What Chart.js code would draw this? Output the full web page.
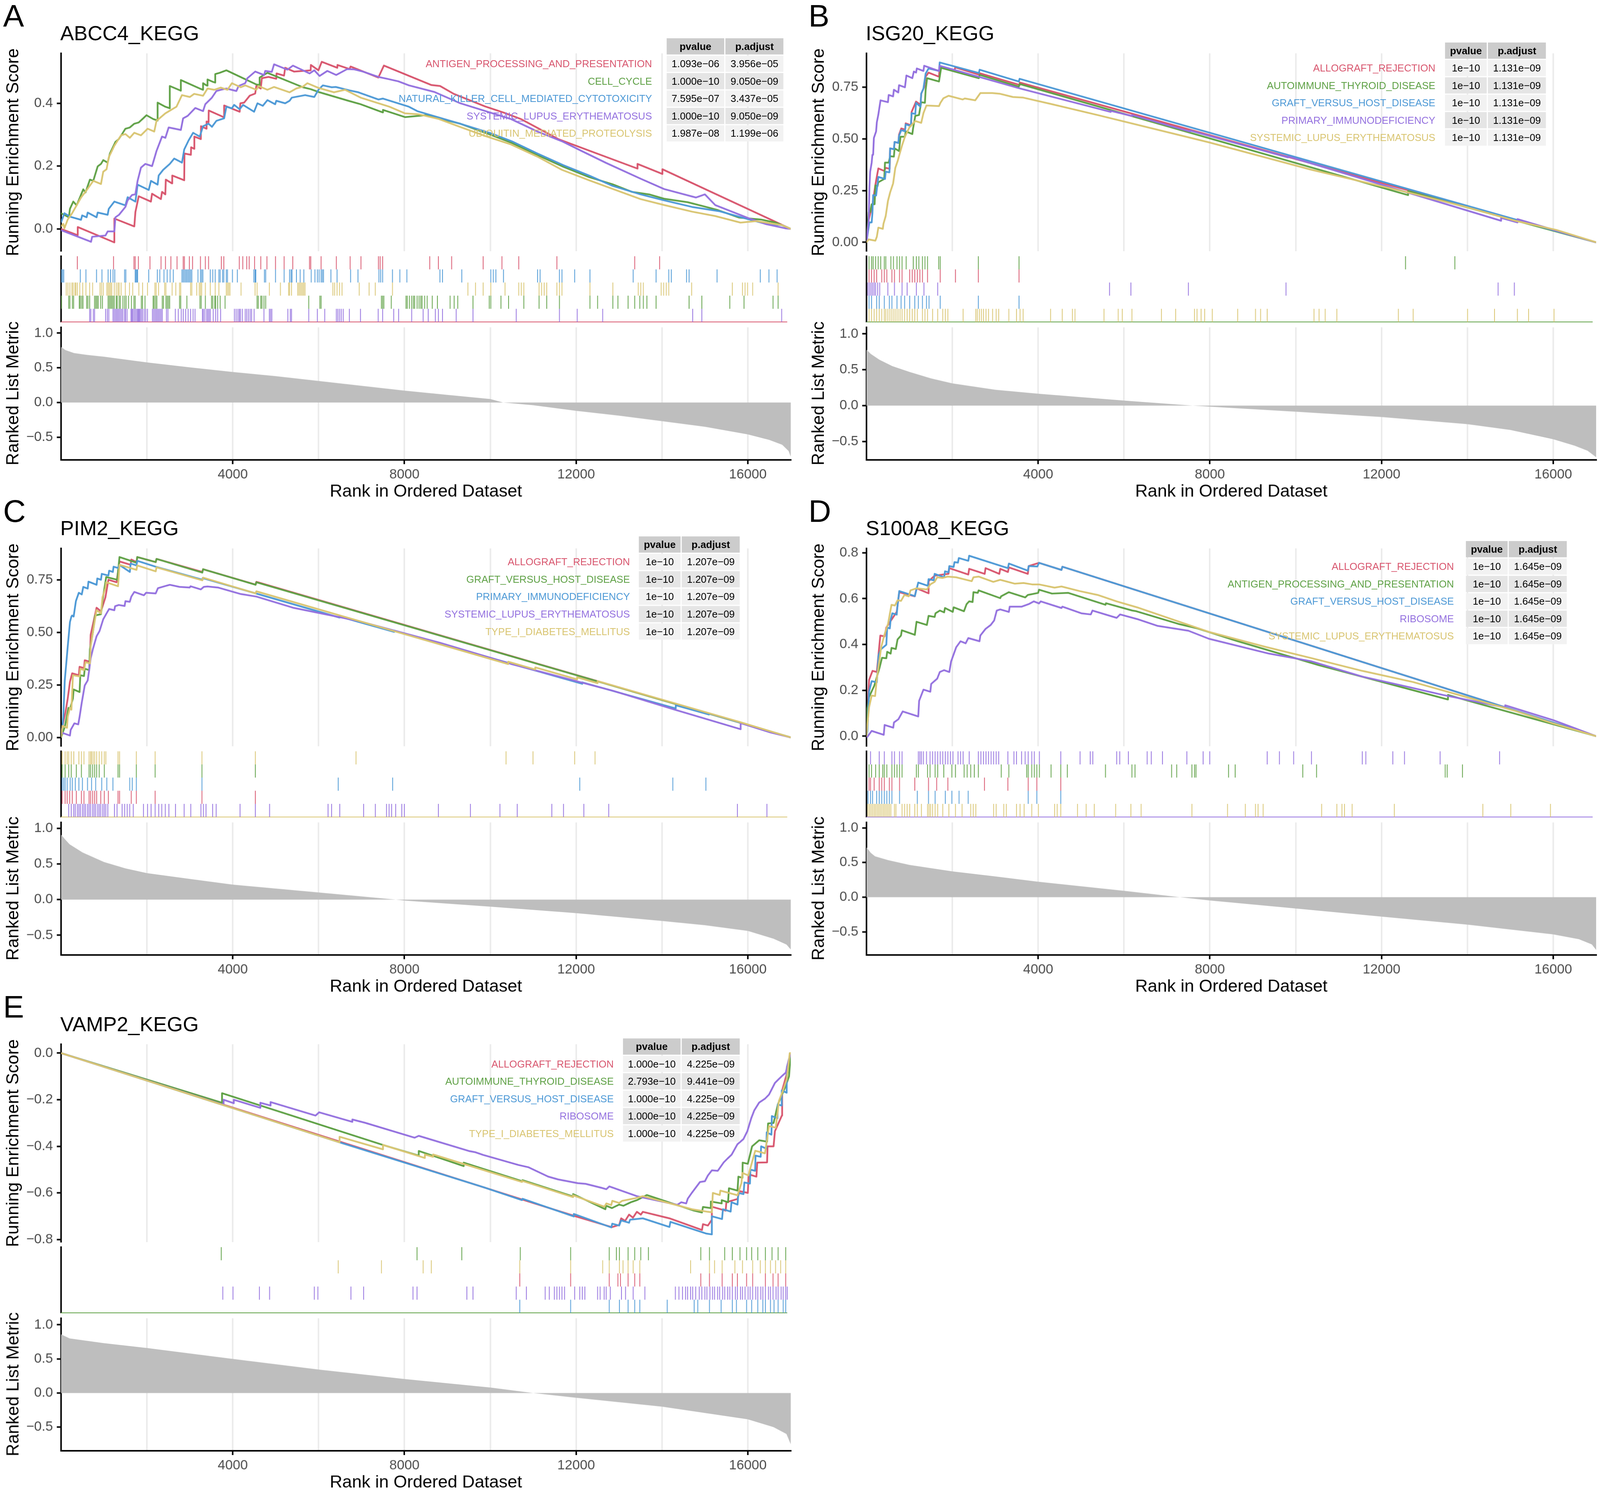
<!DOCTYPE html>
<html>
<head>
<meta charset="utf-8">
<title>GSEA KEGG panels</title>
<script src="https://cdn.jsdelivr.net/npm/chart.js@4.4.1/dist/chart.umd.min.js"></script>
<style>
  html, body { margin: 0; padding: 0; background: #fff; width: 100%; height: 100%; overflow: hidden; }
  body { font-family: "Liberation Sans", Arial, sans-serif; color: #000; }
  #page { position: absolute; left: 0; top: 0; width: 4140px; height: 3858px; transform-origin: 0 0; overflow: hidden; background: #fff; }
  canvas { position: absolute; }
  .txt { position: absolute; white-space: nowrap; line-height: 1; z-index: 2; }
  .ytitle { position: absolute; white-space: nowrap; font-size: 45px; line-height: 45px; transform: translate(-50%, -50%) rotate(-90deg); z-index: 2; }
  .legend { position: absolute; text-align: right; font-size: 26px; line-height: 45px; white-space: nowrap; z-index: 2; }
  table.stat { position: absolute; border-collapse: separate; border-spacing: 3px; font-size: 26px; z-index: 2; }
  table.stat td, table.stat th { height: 42px; padding: 0 13px; text-align: center; white-space: nowrap; }
  table.stat th { background: #CCCCCC; font-weight: bold; }
  table.stat tr.r0 td { background: #F2F2F2; }
  table.stat tr.r1 td { background: #E5E5E5; }
</style>
</head>
<body>
<div id="page"></div>
<script>
// ---------- shared tick values ----------
const rankGrid = [2000, 4000, 6000, 8000, 10000, 12000, 14000, 16000];
const rankLabels = [4000, 8000, 12000, 16000];
const metricTicks = [-0.5, 0, 0.5, 1];

// ---------- panel A : ABCC4_KEGG ----------
const setsA = ['ANTIGEN_PROCESSING_AND_PRESENTATION', 'CELL_CYCLE', 'NATURAL_KILLER_CELL_MEDIATED_CYTOTOXICITY', 'SYSTEMIC_LUPUS_ERYTHEMATOSUS', 'UBIQUITIN_MEDIATED_PROTEOLYSIS'];
const pvalA = ['1.093e\u221206', '1.000e\u221210', '7.595e\u221207', '1.000e\u221210', '1.987e\u221208'];
const padjA = ['3.956e\u221205', '9.050e\u221209', '3.437e\u221205', '9.050e\u221209', '1.199e\u221206'];
const esTicksA = [0, 0.2, 0.4];
const esA = [
  [[0,0],[388,-0.02],[388,0.006],[1241,-0.043],[1241,0.033],[1706,0.008],[1732,0.054],[1809,0.104],[2093,0.087],[2119,0.112],[2326,0.095],[2352,0.118],[2429,0.11],[2440,0.157],[2585,0.145],[2590,0.17],[2869,0.155],[2875,0.24],[3024,0.236],[3030,0.26],[3101,0.255],[3105,0.294],[3256,0.286],[3260,0.327],[3386,0.319],[3390,0.342],[3437,0.34],[3440,0.377],[3722,0.36],[3799,0.355],[3799,0.393],[4161,0.373],[4177,0.40],[4264,0.402],[4394,0.424],[4523,0.431],[4549,0.455],[4652,0.447],[4678,0.48],[4833,0.484],[5014,0.478],[5020,0.495],[5195,0.488],[5221,0.513],[5427,0.501],[5815,0.505],[5820,0.522],[5996,0.505],[6073,0.532],[6435,0.513],[6440,0.522],[6720,0.509],[6745,0.517],[7392,0.482],[7521,0.52],[8630,0.458],[8830,0.455],[9150,0.43],[9880,0.39],[10320,0.37],[10710,0.35],[11600,0.285],[13430,0.192],[13430,0.207],[14010,0.175],[14010,0.19],[17000,0]],
  [[0,0.05],[181,0.037],[207,0.064],[284,0.087],[362,0.075],[517,0.126],[569,0.116],[672,0.157],[750,0.153],[853,0.199],[930,0.207],[982,0.219],[1085,0.211],[1137,0.24],[1266,0.277],[1344,0.286],[1421,0.302],[1499,0.319],[1602,0.323],[1706,0.335],[1809,0.339],[1913,0.352],[1990,0.362],[2145,0.35],[2249,0.345],[2249,0.402],[2429,0.389],[2533,0.384],[2533,0.455],[2740,0.443],[2791,0.44],[2791,0.474],[3231,0.447],[3308,0.443],[3308,0.464],[3386,0.457],[3412,0.456],[3412,0.476],[3541,0.468],[3592,0.466],[3592,0.493],[3696,0.497],[3851,0.505],[4549,0.46],[4626,0.458],[4626,0.482],[4807,0.497],[5634,0.451],[5815,0.445],[6022,0.435],[6694,0.408],[6978,0.397],[7495,0.371],[7500,0.379],[8012,0.356],[8500,0.362],[9300,0.335],[10000,0.30],[10500,0.274],[11100,0.235],[11700,0.198],[12300,0.165],[12850,0.142],[13300,0.118],[13700,0.11],[14050,0.096],[14600,0.085],[15000,0.071],[15300,0.06],[15800,0.036],[16300,0.03],[16650,0.02],[17000,0]],
  [[0,0.021],[78,0.05],[207,0.039],[465,0.029],[491,0.043],[595,0.037],[620,0.052],[827,0.037],[853,0.052],[1085,0.045],[1111,0.064],[1241,0.087],[1499,0.075],[1551,0.101],[1732,0.087],[1783,0.141],[2042,0.124],[2094,0.153],[2249,0.141],[2274,0.17],[2378,0.188],[2533,0.207],[2636,0.224],[2817,0.211],[2869,0.253],[2972,0.282],[3076,0.306],[3231,0.294],[3308,0.327],[3437,0.335],[3515,0.325],[3618,0.344],[3799,0.352],[3851,0.389],[3980,0.384],[4032,0.395],[4161,0.381],[4240,0.395],[4497,0.373],[4575,0.4],[4700,0.392],[4807,0.41],[4988,0.397],[5014,0.408],[5221,0.4],[5324,0.408],[5376,0.418],[5531,0.422],[5686,0.426],[5900,0.42],[5996,0.443],[6099,0.457],[6306,0.451],[6400,0.452],[6720,0.441],[6927,0.435],[7392,0.412],[7500,0.415],[8105,0.389],[8300,0.375],[9300,0.335],[10000,0.305],[10500,0.279],[11100,0.24],[11700,0.203],[12300,0.17],[12850,0.137],[13500,0.11],[14050,0.091],[14700,0.07],[15350,0.056],[15900,0.035],[16450,0.015],[16800,0.012],[17000,0]],
  [[0,-0.004],[698,-0.041],[724,-0.025],[1034,-0.021],[1086,-0.008],[1241,-0.008],[1266,0.037],[1350,0.045],[1499,0.07],[1551,0.091],[1654,0.108],[1730,0.11],[1783,0.153],[1861,0.195],[1964,0.207],[2120,0.2],[2223,0.248],[2352,0.294],[2430,0.29],[2507,0.323],[2791,0.315],[2843,0.352],[2950,0.36],[3127,0.385],[3308,0.375],[3360,0.397],[3515,0.418],[3618,0.439],[3722,0.443],[3851,0.447],[4084,0.439],[4135,0.455],[4290,0.464],[4342,0.48],[4523,0.501],[4730,0.49],[4756,0.503],[4910,0.5],[4962,0.524],[5272,0.507],[5402,0.52],[5789,0.495],[5900,0.505],[6022,0.487],[6203,0.503],[6410,0.49],[6668,0.509],[6830,0.508],[7030,0.501],[7392,0.484],[7598,0.478],[7857,0.47],[8105,0.457],[8700,0.436],[9300,0.40],[10480,0.35],[11100,0.31],[11670,0.279],[12100,0.25],[12700,0.21],[13500,0.16],[14050,0.127],[14790,0.10],[15000,0.11],[15240,0.076],[16000,0.035],[16430,0.015],[16870,0.002],[17000,0]],
  [[0,0.008],[52,0.016],[78,0.002],[155,0.03],[258,0.05],[465,0.1],[620,0.128],[750,0.153],[930,0.143],[982,0.182],[1060,0.19],[1111,0.228],[1241,0.265],[1396,0.298],[1500,0.302],[1602,0.29],[1706,0.306],[1861,0.298],[2016,0.319],[2171,0.31],[2223,0.344],[2429,0.368],[2688,0.389],[2817,0.426],[3000,0.42],[3101,0.43],[3308,0.424],[3412,0.447],[3567,0.443],[3720,0.45],[3877,0.443],[3980,0.464],[4187,0.451],[4290,0.457],[4549,0.443],[4600,0.455],[4807,0.443],[4960,0.452],[5324,0.435],[5479,0.447],[5634,0.453],[5738,0.464],[5996,0.449],[6358,0.435],[6616,0.443],[6978,0.418],[7650,0.389],[8012,0.368],[8330,0.365],[8800,0.35],[9290,0.325],[9900,0.295],[10480,0.269],[11100,0.23],[11670,0.188],[12300,0.155],[12860,0.127],[13500,0.095],[14050,0.076],[14700,0.055],[15240,0.041],[15830,0.02],[16200,0.025],[16430,0.02],[16800,0.012],[17000,0]]
];
const rugA = [
  [380,1228,1706,1735,1810,2081,2340,2444,2571,2715,2859,2888,3003,3078,3263,3378,3453,3752,3810,4173,4254,4346,4404,4530,4675,4819,5020,5222,5424,5816,5845,6087,6444,6767,7021,7430,7470,7528,8631,8833,9143,9881,10321,10714,11607,13429,14012],
  [12,179,207,265,294,426,450,484,513,599,628,669,784,813,841,870,928,969,1101,1130,1159,1187,1216,1245,1291,1314,1360,1389,1447,1487,1522,1579,1648,1706,1735,1879,1908,1965,2155,2179,2213,2242,2369,2398,2455,2484,2513,2542,2773,2801,2945,3251,3280,3378,3522,3551,3597,3620,3666,3724,3839,4588,4617,4675,4703,4749,4790,5798,6058,6087,7499,7528,7557,7730,8075,8104,8155,8208,8248,8277,8335,8381,8421,8450,8512,8571,8690,8810,9107,9202,9286,9643,10024,10060,10298,10476,10833,11190,11369,11667,12381,12560,12917,13036,13274,13429,13548,13631,13714,13929,14702,15000,15655,15988,16667,16786],
  [12,35,63,450,582,830,957,1101,1159,1216,1257,1487,1516,1735,1752,1775,1792,2052,2254,2311,2409,2484,2553,2628,2830,2859,2888,2917,2945,2974,3003,3032,3061,3205,3263,3291,3320,3493,3551,3608,3695,3724,3781,3810,3868,3896,4012,4127,4513,4542,4559,4761,4790,5020,5222,5349,5384,5407,5510,5597,5683,5856,5943,6000,6041,6087,6116,6144,6317,6461,6778,6951,7441,7482,7528,7758,7931,8095,8869,8929,9381,10060,10119,10179,10357,11155,11214,11667,11726,12024,12381,13393,13929,14226,14286,14643,14702,15357,16369,16571,16762],
  [669,697,755,784,1043,1084,1118,1216,1245,1274,1303,1331,1360,1389,1418,1447,1487,1510,1545,1637,1660,1677,1706,1735,1764,1792,1810,1833,1850,1879,1908,1948,1983,2023,2138,2167,2196,2225,2254,2282,2311,2340,2369,2467,2502,2675,2744,2813,2859,2917,2974,3032,3090,3136,3309,3332,3366,3407,3435,3464,3493,3562,3620,3666,3735,4058,4098,4139,4173,4196,4242,4311,4346,4386,4427,4461,4519,4749,4876,4905,4934,5309,5366,5395,5798,6000,6173,6444,6479,6519,6559,6605,6749,7009,7424,7528,7787,7902,8208,8476,8595,8762,8833,8929,9250,9643,10655,11667,12083,12679,14786,15000,16869],
  [121,161,207,254,282,323,346,380,438,507,582,669,738,911,945,986,1072,1101,1130,1159,1187,1245,1291,1331,1360,1406,1504,1602,1677,1821,1908,2023,2196,2225,2282,2426,2455,2600,2686,2773,2801,3032,3061,3176,3234,3263,3291,3378,3493,3608,3695,3868,3896,3925,3954,4213,4542,4588,4876,5135,5326,5349,5395,5539,5568,5597,5626,5655,5683,5712,6363,6404,6461,6519,6577,6980,7211,7355,7758,9524,9702,9881,10060,10393,10714,10774,10833,11190,11250,11310,11369,11607,11667,11726,12381,12917,13512,13571,13631,14048,14107,14167,14226,14762,15714,15952,16012,16071,16190,16786]
];
const metricA = [[0,0.80],[100,0.755],[300,0.713],[600,0.686],[1000,0.66],[2000,0.577],[3000,0.507],[4000,0.44],[5000,0.379],[6000,0.31],[7000,0.24],[8000,0.17],[9000,0.11],[10000,0.05],[10300,0.0],[11000,-0.04],[12000,-0.12],[13000,-0.19],[14000,-0.27],[15000,-0.35],[16000,-0.46],[16500,-0.54],[16800,-0.61],[16950,-0.70],[17000,-0.78]];

// ---------- panel B : ISG20_KEGG ----------
const setsB = ['ALLOGRAFT_REJECTION', 'AUTOIMMUNE_THYROID_DISEASE', 'GRAFT_VERSUS_HOST_DISEASE', 'PRIMARY_IMMUNODEFICIENCY', 'SYSTEMIC_LUPUS_ERYTHEMATOSUS'];
const pvalB = ['1e\u221210', '1e\u221210', '1e\u221210', '1e\u221210', '1e\u221210'];
const padjB = ['1.131e\u221209', '1.131e\u221209', '1.131e\u221209', '1.131e\u221209', '1.131e\u221209'];
const esTicksB = [0, 0.25, 0.5, 0.75];
const esB = [
  [[0,0],[52,0.109],[138,0.18],[207,0.278],[276,0.357],[413,0.345],[448,0.36],[540,0.355],[551,0.454],[640,0.45],[655,0.485],[745,0.48],[758,0.52],[810,0.55],[900,0.545],[913,0.575],[1040,0.565],[1051,0.63],[1154,0.68],[1258,0.665],[1275,0.718],[1344,0.75],[1378,0.80],[1447,0.82],[1689,0.80],[1706,0.85],[2050,0.83],[2067,0.845],[2619,0.81],[2619,0.818],[3571,0.76],[3571,0.772],[17000,0]],
  [[0,0],[52,0.146],[86,0.146],[121,0.184],[190,0.184],[207,0.275],[258,0.272],[276,0.29],[413,0.306],[431,0.385],[517,0.385],[551,0.416],[638,0.414],[655,0.454],[758,0.441],[793,0.51],[896,0.51],[913,0.536],[1068,0.523],[1085,0.55],[1137,0.611],[1223,0.615],[1275,0.677],[1361,0.674],[1378,0.737],[1413,0.793],[1689,0.777],[1740,0.843],[2619,0.793],[2636,0.809],[3549,0.752],[3567,0.765],[12619,0.228],[12619,0.248],[13774,0.181],[17000,0]],
  [[0,0],[34,0.05],[69,0.096],[121,0.096],[138,0.14],[155,0.228],[224,0.226],[276,0.316],[431,0.306],[448,0.341],[534,0.338],[551,0.454],[638,0.45],[655,0.485],[741,0.48],[758,0.514],[810,0.542],[896,0.536],[913,0.57],[1034,0.562],[1051,0.624],[1137,0.62],[1154,0.674],[1258,0.655],[1275,0.718],[1327,0.743],[1378,0.815],[1447,0.84],[1689,0.828],[1706,0.869],[2619,0.818],[2636,0.834],[3549,0.777],[3567,0.79],[17000,0]],
  [[0,0],[52,0.109],[69,0.266],[86,0.341],[121,0.385],[138,0.423],[155,0.423],[172,0.504],[224,0.536],[241,0.58],[276,0.617],[327,0.686],[500,0.677],[517,0.712],[620,0.705],[638,0.737],[741,0.724],[758,0.759],[896,0.749],[930,0.806],[1068,0.793],[1103,0.825],[1155,0.82],[1172,0.84],[1327,0.828],[1344,0.853],[1689,0.828],[1706,0.853],[3584,0.743],[5690,0.63],[5690,0.635],[6190,0.61],[6190,0.615],[7536,0.535],[7536,0.54],[9821,0.41],[9821,0.415],[14786,0.104],[14786,0.118],[15167,0.096],[15167,0.112],[17000,0]],
  [[0,0],[52,0.014],[207,0.008],[241,0.027],[276,0.071],[380,0.065],[396,0.09],[448,0.127],[500,0.2],[551,0.241],[620,0.284],[672,0.36],[724,0.391],[775,0.429],[827,0.467],[896,0.51],[999,0.555],[1137,0.586],[1275,0.577],[1327,0.624],[1396,0.661],[1689,0.658],[1723,0.674],[1792,0.696],[1913,0.708],[2240,0.69],[2290,0.695],[2533,0.686],[2653,0.721],[2929,0.721],[3101,0.718],[3412,0.702],[3653,0.699],[4307,0.668],[5403,0.614],[7976,0.483],[10357,0.351],[12738,0.235],[13929,0.173],[15119,0.104],[16071,0.06],[17000,0]]
];
const rugB = [
  [60,119,179,238,357,417,476,595,655,774,833,1012,1071,1131,1190,1250,1310,1429,1726,2083,2619,3571],
  [60,119,155,214,274,333,417,452,571,631,714,774,833,929,1095,1167,1226,1310,1369,1429,1690,1726,2619,3571,12619,13774],
  [60,119,238,298,417,536,595,714,810,893,1012,1131,1214,1310,1405,1464,1726,2619,3571],
  [36,71,107,143,179,214,262,310,500,655,833,952,1167,1345,1667,5690,6190,7536,9821,14786,15167],
  [60,119,179,238,298,357,417,452,500,548,595,643,690,738,786,833,893,952,1012,1071,1131,1190,1310,1369,1429,1548,1667,1786,1845,1905,2262,2560,2595,2643,2690,2738,2798,2857,2952,3036,3095,3333,3512,3595,3667,4310,4583,4821,4881,5560,5893,5988,6214,6905,7238,7679,7738,7833,7917,8095,8690,9107,9226,9381,10476,10595,10738,11012,12452,12798,14071,14702,15238,15500,16095]
];
const metricB = [[0,0.78],[100,0.72],[300,0.64],[600,0.55],[1000,0.47],[1500,0.38],[2000,0.31],[3000,0.22],[4000,0.165],[6000,0.07],[7600,0.0],[8000,-0.015],[10000,-0.085],[12000,-0.16],[14000,-0.26],[15000,-0.34],[16000,-0.47],[16500,-0.56],[16800,-0.63],[17000,-0.72]];

// ---------- panel C : PIM2_KEGG ----------
const setsC = ['ALLOGRAFT_REJECTION', 'GRAFT_VERSUS_HOST_DISEASE', 'PRIMARY_IMMUNODEFICIENCY', 'SYSTEMIC_LUPUS_ERYTHEMATOSUS', 'TYPE_I_DIABETES_MELLITUS'];
const pvalC = ['1e\u221210', '1e\u221210', '1e\u221210', '1e\u221210', '1e\u221210'];
const padjC = ['1.207e\u221209', '1.207e\u221209', '1.207e\u221209', '1.207e\u221209', '1.207e\u221209'];
const esTicksC = [0, 0.25, 0.5, 0.75];
const esC = [
  [[0,0],[34,0.055],[103,0.12],[155,0.185],[207,0.265],[258,0.305],[413,0.296],[431,0.336],[534,0.33],[551,0.367],[672,0.36],[689,0.488],[827,0.617],[930,0.60],[1034,0.667],[1103,0.75],[1292,0.738],[1361,0.837],[1620,0.821],[1637,0.846],[1757,0.834],[1775,0.858],[2205,0.834],[2223,0.849],[3291,0.787],[3308,0.80],[4532,0.727],[4549,0.74],[17000,0]],
  [[0,0],[34,0.02],[86,0.05],[172,0.141],[207,0.135],[276,0.185],[293,0.228],[431,0.216],[448,0.296],[534,0.292],[551,0.327],[655,0.32],[672,0.42],[741,0.50],[793,0.58],[930,0.586],[965,0.65],[1051,0.763],[1309,0.75],[1361,0.858],[1757,0.831],[1775,0.858],[2205,0.834],[2223,0.849],[3291,0.784],[3308,0.8],[4532,0.726],[4549,0.738],[17000,0]],
  [[0,0],[34,0.055],[52,0.098],[86,0.271],[121,0.352],[155,0.432],[207,0.549],[241,0.575],[258,0.58],[293,0.575],[345,0.648],[413,0.688],[482,0.68],[517,0.716],[620,0.708],[638,0.741],[827,0.726],[844,0.756],[930,0.75],[948,0.778],[1103,0.77],[1120,0.793],[1206,0.787],[1223,0.812],[1327,0.806],[1361,0.82],[1602,0.787],[1620,0.827],[1757,0.818],[1775,0.84],[2205,0.812],[3298,0.75],[3298,0.758],[6488,0.57],[6488,0.575],[7762,0.502],[7762,0.508],[12143,0.255],[12143,0.262],[14321,0.138],[14321,0.153],[15095,0.109],[15095,0.114],[17000,0]],
  [[0,0.024],[207,0.009],[224,0.036],[310,0.067],[400,0.062],[431,0.098],[482,0.166],[551,0.247],[620,0.271],[655,0.321],[689,0.376],[741,0.42],[827,0.481],[896,0.506],[982,0.562],[1068,0.593],[1120,0.611],[1241,0.605],[1258,0.624],[1344,0.63],[1480,0.625],[1499,0.648],[1600,0.645],[1637,0.67],[1706,0.692],[1930,0.676],[1981,0.688],[2205,0.685],[2257,0.71],[2412,0.719],[2533,0.726],[2757,0.716],[2998,0.713],[3015,0.719],[3256,0.704],[3325,0.716],[3412,0.718],[3653,0.713],[4187,0.682],[4549,0.67],[5403,0.617],[6905,0.555],[8833,0.45],[10476,0.35],[12857,0.222],[14286,0.133],[15833,0.039],[15833,0.068],[16524,0.024],[17000,0]],
  [[0,0],[34,0.055],[138,0.046],[155,0.098],[207,0.141],[241,0.132],[276,0.296],[431,0.29],[448,0.327],[534,0.32],[569,0.358],[672,0.352],[689,0.432],[740,0.5],[827,0.605],[930,0.59],[965,0.667],[1034,0.71],[1051,0.738],[1327,0.719],[1361,0.821],[1757,0.797],[1775,0.818],[2205,0.79],[2223,0.809],[3291,0.747],[3308,0.76],[4532,0.685],[4549,0.695],[6905,0.556],[10417,0.349],[10417,0.36],[11048,0.323],[11048,0.333],[12024,0.276],[12024,0.286],[12500,0.258],[12500,0.268],[14286,0.163],[15119,0.114],[15833,0.072],[17000,0]]
];
const rugC = [
  [24,95,143,202,262,357,476,536,655,690,738,786,833,929,1012,1107,1333,1369,1643,1762,2202,3298,4548],
  [24,95,179,238,357,476,655,690,738,786,833,893,1012,1333,1369,1762,2202,3298,4548],
  [24,60,95,143,214,262,333,417,500,619,714,810,952,1071,1214,1607,1667,1762,3298,6488,7762,12143,14321,15095],
  [179,238,298,333,381,417,452,500,536,571,619,655,690,738,774,810,857,893,929,976,1012,1048,1095,1250,1310,1429,1488,1548,1607,1690,1929,2024,2107,2202,2286,2357,2440,2524,2679,2881,3036,3274,3333,3393,3548,3631,4190,4548,4881,6250,6333,6524,7083,7357,7619,7679,7738,7833,7976,8036,8833,9583,10274,10679,11488,11762,12238,12821,15833,16524],
  [24,95,143,179,238,298,417,476,536,655,690,714,750,786,833,893,952,1012,1048,1333,1369,1762,2202,3298,4548,6905,10417,11048,12024,12500]
];
const metricC = [[0,0.91],[100,0.84],[200,0.775],[500,0.66],[1000,0.527],[1500,0.437],[2000,0.37],[3000,0.29],[4000,0.21],[6000,0.10],[7800,0.0],[8000,-0.014],[10000,-0.10],[12000,-0.19],[14000,-0.30],[15000,-0.36],[16000,-0.44],[16600,-0.55],[16900,-0.63],[17000,-0.70]];

// ---------- panel D : S100A8_KEGG ----------
const setsD = ['ALLOGRAFT_REJECTION', 'ANTIGEN_PROCESSING_AND_PRESENTATION', 'GRAFT_VERSUS_HOST_DISEASE', 'RIBOSOME', 'SYSTEMIC_LUPUS_ERYTHEMATOSUS'];
const pvalD = ['1e\u221210', '1e\u221210', '1e\u221210', '1e\u221210', '1e\u221210'];
const padjD = ['1.645e\u221209', '1.645e\u221209', '1.645e\u221209', '1.645e\u221209', '1.645e\u221209'];
const esTicksD = [0, 0.2, 0.4, 0.6, 0.8];
const esD = [
  [[0,0],[60,0.245],[141,0.285],[241,0.28],[322,0.439],[422,0.435],[462,0.474],[704,0.542],[764,0.628],[1126,0.61],[1166,0.645],[1447,0.623],[1447,0.676],[1588,0.70],[1910,0.708],[1930,0.733],[2372,0.705],[2392,0.73],[2754,0.708],[2774,0.733],[3095,0.708],[3116,0.73],[3296,0.716],[3317,0.736],[3759,0.708],[3779,0.742],[4020,0.756],[4543,0.725],[4563,0.739],[17000,0]],
  [[0,0],[20,0.12],[60,0.171],[181,0.22],[302,0.297],[362,0.342],[462,0.34],[482,0.368],[563,0.36],[583,0.385],[683,0.38],[724,0.422],[804,0.439],[824,0.462],[1126,0.442],[1166,0.499],[1407,0.485],[1447,0.525],[1588,0.52],[1608,0.536],[1709,0.548],[1809,0.54],[1829,0.559],[2010,0.542],[2030,0.562],[2271,0.545],[2332,0.576],[2392,0.588],[2472,0.585],[2492,0.628],[2593,0.625],[2613,0.636],[3116,0.602],[3136,0.61],[3317,0.628],[3698,0.605],[3759,0.616],[4000,0.625],[4020,0.639],[4322,0.622],[4703,0.625],[5568,0.573],[5580,0.58],[6191,0.548],[6286,0.545],[7262,0.49],[7714,0.47],[8631,0.415],[10536,0.31],[13548,0.16],[13548,0.18],[13952,0.158],[17000,0]],
  [[0,0],[20,0.02],[60,0.194],[121,0.24],[241,0.235],[281,0.354],[342,0.38],[462,0.399],[482,0.474],[543,0.47],[563,0.508],[603,0.536],[704,0.53],[724,0.571],[764,0.633],[1126,0.611],[1206,0.67],[1427,0.656],[1447,0.685],[1568,0.68],[1588,0.708],[1809,0.693],[1829,0.719],[1910,0.715],[1930,0.742],[2030,0.738],[2050,0.759],[2131,0.757],[2151,0.777],[2372,0.765],[2392,0.787],[3296,0.733],[3317,0.753],[3759,0.722],[3779,0.742],[3980,0.74],[4020,0.756],[4543,0.725],[4563,0.739],[17000,0]],
  [[0,0],[20,-0.003],[121,0.023],[402,0.006],[422,0.049],[623,0.037],[640,0.06],[744,0.074],[844,0.108],[1206,0.086],[1226,0.154],[1327,0.203],[1487,0.194],[1508,0.228],[1648,0.251],[1709,0.28],[1809,0.288],[1930,0.28],[1970,0.325],[2090,0.388],[2191,0.414],[2311,0.405],[2372,0.428],[2633,0.414],[2653,0.439],[2774,0.468],[2894,0.485],[2975,0.505],[3035,0.548],[3116,0.553],[3317,0.542],[3337,0.565],[3618,0.565],[3779,0.576],[3899,0.588],[4020,0.579],[4060,0.588],[4543,0.559],[4563,0.565],[5005,0.536],[5226,0.531],[5266,0.548],[5829,0.516],[5909,0.531],[6303,0.511],[6786,0.481],[7500,0.46],[7976,0.425],[9381,0.36],[10357,0.327],[11548,0.26],[12619,0.215],[13429,0.18],[14881,0.125],[14881,0.135],[16012,0.069],[17000,0]],
  [[0,0],[20,0.05],[60,0.126],[121,0.177],[201,0.175],[241,0.251],[342,0.388],[422,0.445],[503,0.491],[583,0.573],[663,0.57],[724,0.593],[804,0.59],[884,0.616],[985,0.61],[1025,0.636],[1166,0.645],[1407,0.64],[1487,0.662],[1588,0.673],[1648,0.693],[1768,0.69],[1889,0.696],[2090,0.693],[2452,0.676],[2492,0.693],[2613,0.696],[2955,0.673],[3116,0.682],[3457,0.665],[3659,0.668],[3859,0.662],[4020,0.662],[4382,0.648],[4543,0.653],[4965,0.633],[5387,0.616],[5829,0.588],[6303,0.562],[7976,0.455],[9286,0.39],[10357,0.341],[11548,0.285],[12738,0.236],[13929,0.173],[15119,0.11],[16012,0.055],[17000,0]]
];
const rugD = [
  [60,95,179,298,357,417,536,595,774,1131,1452,1643,1905,2762,3310,3786,3988,4548],
  [60,119,214,298,381,417,476,595,655,714,774,833,1167,1214,1429,1488,1607,1667,1810,1999,2083,2286,2357,2440,2524,2619,3155,3333,3750,3786,3869,3929,3988,4048,4321,4548,4702,5595,6214,6286,7143,7262,7619,7679,7714,8476,8631,10214,10536,13548,13595,13952],
  [36,95,143,238,298,357,417,476,536,595,774,1190,1452,1607,1845,1999,2167,2381,3786,3988,4548],
  [95,298,417,595,655,774,833,1214,1250,1286,1333,1405,1488,1548,1607,1667,1726,1786,1845,1905,1964,2024,2143,2202,2262,2405,2619,2679,2738,2798,2857,2917,2976,3036,3095,3310,3452,3512,3631,3714,3786,3869,3929,4048,4548,5000,5238,5298,5857,5929,6131,6571,6667,6929,7500,7881,8036,9381,9667,10000,10417,11607,11690,12321,12595,13429,14821],
  [36,71,107,143,179,214,250,286,321,357,393,429,464,500,536,571,655,690,833,893,952,1012,1131,1190,1286,1429,1464,1500,1548,1607,1667,1786,1929,2083,2238,2440,2500,2560,2976,3036,3214,3274,3512,3595,3690,3869,4024,4405,4464,4548,4940,5143,5333,5833,6190,6429,7619,8452,8869,9107,9167,9286,10655,11012,11131,11190,11369,12357,14429,15083,16012]
];
const metricD = [[0,0.72],[100,0.64],[200,0.59],[500,0.535],[1000,0.465],[2000,0.372],[3000,0.30],[4000,0.223],[6000,0.093],[7300,0.0],[8000,-0.047],[10000,-0.163],[12000,-0.28],[14000,-0.395],[16000,-0.535],[16600,-0.605],[16900,-0.68],[17000,-0.76]];

// ---------- panel E : VAMP2_KEGG ----------
const setsE = ['ALLOGRAFT_REJECTION', 'AUTOIMMUNE_THYROID_DISEASE', 'GRAFT_VERSUS_HOST_DISEASE', 'RIBOSOME', 'TYPE_I_DIABETES_MELLITUS'];
const pvalE = ['1.000e\u221210', '2.793e\u221210', '1.000e\u221210', '1.000e\u221210', '1.000e\u221210'];
const padjE = ['4.225e\u221209', '9.441e\u221209', '4.225e\u221209', '4.225e\u221209', '4.225e\u221209'];
const esTicksE = [-0.8, -0.6, -0.4, -0.2, 0];
const esE = [
  [[0,0],[10738,-0.628],[11929,-0.697],[12833,-0.747],[13003,-0.737],[13049,-0.709],[13141,-0.72],[13233,-0.693],[13324,-0.706],[13416,-0.681],[13508,-0.693],[13554,-0.681],[14174,-0.709],[14932,-0.759],[14955,-0.734],[15070,-0.74],[15162,-0.715],[15162,-0.659],[15484,-0.676],[15500,-0.64],[15759,-0.626],[15805,-0.592],[16000,-0.6],[16020,-0.52],[16200,-0.53],[16220,-0.47],[16449,-0.469],[16460,-0.40],[16600,-0.40],[16632,-0.335],[16793,-0.268],[16800,-0.16],[16908,-0.089],[17000,0]],
  [[0,0],[3750,-0.213],[3750,-0.172],[7500,-0.394],[8333,-0.44],[8333,-0.42],[9381,-0.485],[9381,-0.47],[10750,-0.55],[10750,-0.545],[11929,-0.615],[11929,-0.605],[12681,-0.67],[12700,-0.655],[12833,-0.665],[13000,-0.65],[13100,-0.655],[13274,-0.64],[13429,-0.63],[13646,-0.609],[14748,-0.676],[14932,-0.684],[14955,-0.66],[15139,-0.665],[15139,-0.637],[15392,-0.645],[15392,-0.631],[15540,-0.64],[15560,-0.58],[15760,-0.59],[15780,-0.53],[15874,-0.535],[15880,-0.47],[16000,-0.475],[16100,-0.40],[16265,-0.374],[16449,-0.38],[16472,-0.302],[16600,-0.30],[16700,-0.22],[16885,-0.14],[16960,-0.1],[17000,0]],
  [[0,0],[6488,-0.383],[9833,-0.575],[10738,-0.631],[10752,-0.625],[11946,-0.701],[11946,-0.69],[12819,-0.748],[12842,-0.732],[13003,-0.74],[13049,-0.718],[13233,-0.728],[13256,-0.715],[13554,-0.709],[14174,-0.746],[14197,-0.724],[15024,-0.774],[15162,-0.778],[15162,-0.70],[15400,-0.712],[15420,-0.67],[15600,-0.68],[15620,-0.64],[15760,-0.65],[15780,-0.60],[15900,-0.605],[15920,-0.555],[16050,-0.56],[16060,-0.50],[16170,-0.505],[16180,-0.44],[16300,-0.445],[16310,-0.40],[16430,-0.41],[16440,-0.34],[16550,-0.35],[16560,-0.27],[16690,-0.28],[16700,-0.22],[16786,-0.225],[16790,-0.16],[16905,-0.17],[16910,-0.06],[17000,0]],
  [[0,0],[3786,-0.222],[3786,-0.20],[4024,-0.215],[4024,-0.20],[4643,-0.235],[4643,-0.213],[4881,-0.225],[4881,-0.21],[5929,-0.268],[6012,-0.254],[6786,-0.295],[6786,-0.285],[7083,-0.299],[8238,-0.363],[8333,-0.355],[9500,-0.42],[9643,-0.425],[9833,-0.437],[10655,-0.48],[10893,-0.49],[11349,-0.53],[11579,-0.542],[12038,-0.558],[12222,-0.561],[12590,-0.578],[12704,-0.584],[12773,-0.572],[13416,-0.614],[14358,-0.651],[14450,-0.64],[14565,-0.645],[14600,-0.625],[14702,-0.598],[14886,-0.553],[15000,-0.55],[15070,-0.525],[15162,-0.503],[15300,-0.505],[15438,-0.469],[15530,-0.452],[15622,-0.436],[15759,-0.391],[15897,-0.369],[15989,-0.335],[16081,-0.279],[16150,-0.246],[16265,-0.212],[16403,-0.195],[16494,-0.178],[16632,-0.128],[16724,-0.111],[16816,-0.095],[16885,-0.084],[16954,-0.028],[17000,0]],
  [[0,0],[6488,-0.383],[6488,-0.359],[7500,-0.413],[7500,-0.394],[8476,-0.45],[8476,-0.435],[8667,-0.445],[8667,-0.435],[10738,-0.553],[10738,-0.548],[11929,-0.618],[11929,-0.61],[12658,-0.659],[12704,-0.645],[12819,-0.652],[12842,-0.634],[13003,-0.643],[13072,-0.634],[13370,-0.623],[13554,-0.614],[14358,-0.653],[14702,-0.67],[15070,-0.681],[15162,-0.683],[15185,-0.6],[15346,-0.609],[15360,-0.59],[15760,-0.61],[15851,-0.558],[15874,-0.514],[16012,-0.525],[16173,-0.419],[16400,-0.43],[16494,-0.313],[16650,-0.32],[16724,-0.206],[16816,-0.162],[16908,-0.111],[16977,0],[17000,0]]
];
const rugE = [
  [10738,11929,12833,13036,13095,13274,13429,13548,14976,15179,15476,15714,15833,16048,16190,16488,16667,16786,16964],
  [3750,8333,9381,10750,11929,12833,13000,13071,13274,13429,13571,13750,14976,15179,15536,15714,15893,16048,16167,16310,16488,16643,16786,16964],
  [10738,11929,12833,13071,13274,13429,13548,14190,14821,14905,15179,15452,15714,15810,16048,16167,16310,16429,16488,16607,16690,16786,16905,16964],
  [3786,4024,4643,4881,5929,6012,6786,7083,8238,8333,9500,9643,10655,10893,11333,11429,11548,11607,11667,11726,11786,12024,12143,12202,12262,12560,12619,12714,12762,12857,13119,13214,13393,13667,14381,14464,14548,14619,14667,14738,14786,14857,14940,15000,15071,15119,15190,15250,15298,15369,15417,15488,15536,15607,15655,15714,15786,15833,15905,15952,16012,16083,16131,16190,16262,16310,16381,16429,16488,16560,16607,16667,16738,16786,16857,16905,16964,17000],
  [6488,7500,8476,8667,10738,11929,12679,12833,13071,13155,13274,13393,13548,14738,15179,15298,15476,15774,15952,16190,16369,16488,16607,16726,16845,16964]
];
const metricE = [[0,0.86],[200,0.80],[1000,0.73],[2000,0.66],[4000,0.50],[6000,0.344],[8000,0.205],[10000,0.08],[11000,0.0],[12000,-0.07],[14000,-0.2],[16000,-0.386],[16600,-0.50],[16900,-0.60],[17000,-0.75]];

// ---------- layout / style ----------
const PAGE_W = 4140, PAGE_H = 3858;
const XMAX = 17000;
const AXW = 158, PW = 1888, M = 30;
const ES_H = 514, RUG_OFF = 526, RUG_H = 170, MET_OFF = 709, MET_H = 344, XAX_H = 120;
const PAL = ['#D8566E', '#5FA146', '#4D99D6', '#9471DF', '#D9C572'];
const GRID = '#EBEBEB';
const CLEAR = 'rgba(0,0,0,0)';

const panels = [
  { tag: 'A', title: 'ABCC4_KEGG', left: 158, top: 137, sets: setsA, pval: pvalA, padj: padjA, es: esA, rug: rugA, metric: metricA, esTicks: esTicksA,
    rows: [0, 2, 4, 1, 3], base: 0, esMin: -0.071, esMax: 0.559, esDec: 1, mMin: -0.828, mMax: 1.083, legRight: 1687, tabRight: 2027, headTop: 99 },
  { tag: 'B', title: 'ISG20_KEGG', left: 2242, top: 137, sets: setsB, pval: pvalB, padj: padjB, es: esB, rug: rugB, metric: metricB, esTicks: esTicksB,
    rows: [1, 0, 3, 2, 4], base: 1, esMin: -0.043, esMax: 0.913, esDec: 2, mMin: -0.758, mMax: 1.091, legRight: 3714, tabRight: 4000, headTop: 110 },
  { tag: 'C', title: 'PIM2_KEGG', left: 158, top: 1418, sets: setsC, pval: pvalC, padj: padjC, es: esC, rug: rugC, metric: metricC, esTicks: esTicksC,
    rows: [4, 1, 2, 0, 3], base: 4, esMin: -0.042, esMax: 0.899, esDec: 2, mMin: -0.777, mMax: 1.082, legRight: 1630, tabRight: 1914, headTop: 1388 },
  { tag: 'D', title: 'S100A8_KEGG', left: 2242, top: 1418, sets: setsD, pval: pvalD, padj: padjD, es: esD, rug: rugD, metric: metricD, esTicks: esTicksD,
    rows: [3, 1, 0, 2, 4], base: 3, esMin: -0.044, esMax: 0.819, esDec: 1, mMin: -0.832, mMax: 1.078, legRight: 3762, tabRight: 4054, headTop: 1400 },
  { tag: 'E', title: 'VAMP2_KEGG', left: 158, top: 2701, sets: setsE, pval: pvalE, padj: padjE, es: esE, rug: rugE, metric: metricE, esTicks: esTicksE,
    rows: [1, 4, 0, 3, 2], base: 1, esMin: -0.811, esMax: 0.038, esDec: 1, mMin: -0.847, mMax: 1.096, legRight: 1588, tabRight: 1914, headTop: 2687 }
];

// fit the fixed-size page into whatever viewport we get
const page = document.getElementById('page');
const fit = Math.min(1, window.innerWidth / PAGE_W, window.innerHeight / PAGE_H);
page.style.transform = 'scale(' + fit + ')';

Chart.defaults.font.family = '"Liberation Sans", Arial, sans-serif';
Chart.defaults.animation = false;

function fmt(v, d) {
  const s = Math.abs(v).toFixed(d);
  return v < -1e-9 ? '\u2212' + s : s;
}

function makeCanvas(x, y, w, h) {
  const c = document.createElement('canvas');
  c.width = w;
  c.height = h;
  c.style.left = x + 'px';
  c.style.top = y + 'px';
  c.style.width = w + 'px';
  c.style.height = h + 'px';
  page.appendChild(c);
  return c;
}

function addDiv(cls, text, css) {
  const d = document.createElement('div');
  d.className = cls;
  if (text != null) d.textContent = text;
  Object.assign(d.style, css);
  page.appendChild(d);
  return d;
}

const setTicks = (vals) => (a) => { a.ticks = vals.map((v) => ({ value: v })); };
const gridColor = (ctx) => (ctx.tick && rankGrid.includes(Math.round(ctx.tick.value))) ? GRID : CLEAR;
const rankTickColor = (ctx) => (ctx.tick && rankLabels.includes(Math.round(ctx.tick.value))) ? '#000' : CLEAR;

function yScale(min, max, vals, dec) {
  return {
    type: 'linear', min: min, max: max,
    afterBuildTicks: setTicks(vals),
    afterFit: (a) => { a.width = AXW; },
    ticks: { color: '#4D4D4D', font: { size: 35 }, padding: 10, callback: (v) => fmt(v, dec) },
    grid: { drawOnChartArea: false, drawTicks: true, tickLength: 11, tickWidth: 4, tickColor: '#000' },
    border: { display: true, color: '#000', width: 4 }
  };
}

const baseOpts = {
  responsive: false,
  maintainAspectRatio: false,
  devicePixelRatio: 1,
  events: [],
  plugins: { legend: { display: false }, tooltip: { enabled: false } }
};

panels.forEach((p) => {
  const cx = p.left - AXW;
  const W = AXW + PW + 10;

  // running enrichment score
  new Chart(makeCanvas(cx, p.top - M, W, ES_H + 2 * M), {
    type: 'line',
    data: {
      datasets: p.es.map((pts, i) => ({
        data: pts.map((q) => ({ x: q[0], y: q[1] })),
        borderColor: PAL[i],
        borderWidth: 4.5,
        borderJoinStyle: 'round',
        pointRadius: 0,
        tension: 0,
        fill: false,
        order: p.es.length - i
      }))
    },
    options: Object.assign({}, baseOpts, {
      layout: { padding: { top: M, bottom: M, left: 0, right: 10 } },
      scales: {
        x: { type: 'linear', min: 0, max: XMAX,
             afterBuildTicks: setTicks(rankGrid),
             afterFit: (a) => { a.height = 0; },
             ticks: { display: false, autoSkip: false },
             grid: { color: gridColor, lineWidth: 4, drawTicks: false },
             border: { display: false } },
        y: yScale(p.esMin, p.esMax, p.esTicks, p.esDec)
      }
    })
  });

  // hit rug
  const rugSets = p.rows.map((si, r) => ({
    data: p.rug[si].map((x) => ({ x: x, y: 4.5 - r })),
    showLine: false,
    pointStyle: 'line',
    pointRotation: 90,
    pointRadius: 17,
    pointBorderColor: PAL[si],
    pointBackgroundColor: PAL[si],
    pointBorderWidth: 2,
    clip: false
  }));
  rugSets.push({
    data: [{ x: 0, y: 0 }, { x: XMAX, y: 0 }],
    showLine: true, borderColor: PAL[p.base], borderWidth: 2, pointRadius: 0, clip: false
  });
  new Chart(makeCanvas(cx, p.top + RUG_OFF - M, W, RUG_H + 2 * M), {
    type: 'scatter',
    data: { datasets: rugSets },
    options: Object.assign({}, baseOpts, {
      layout: { padding: { top: M, bottom: M, left: 0, right: 10 } },
      scales: {
        x: { type: 'linear', min: 0, max: XMAX, display: false },
        y: { type: 'linear', min: 0, max: 5,
             afterFit: (a) => { a.width = AXW; },
             ticks: { display: false },
             grid: { display: false },
             border: { display: true, color: '#000', width: 4 } }
      }
    })
  });

  // ranked list metric
  new Chart(makeCanvas(cx, p.top + MET_OFF - M, W, MET_H + M + XAX_H), {
    type: 'line',
    data: {
      datasets: [{
        data: p.metric.map((q) => ({ x: q[0], y: q[1] })),
        fill: 'origin',
        backgroundColor: '#BEBEBE',
        borderColor: CLEAR,
        borderWidth: 0,
        pointRadius: 0,
        tension: 0
      }]
    },
    options: Object.assign({}, baseOpts, {
      layout: { padding: { top: M, bottom: 0, left: 0, right: 10 } },
      scales: {
        x: { type: 'linear', min: 0, max: XMAX,
             afterBuildTicks: setTicks(rankGrid),
             afterFit: (a) => { a.height = XAX_H; },
             ticks: { autoSkip: false, maxRotation: 0, color: '#4D4D4D', font: { size: 35 }, padding: 6,
                      callback: (v) => rankLabels.includes(Math.round(v)) ? String(Math.round(v)) : '' },
             grid: { color: gridColor, lineWidth: 4, drawTicks: true, tickLength: 11, tickWidth: 4, tickColor: rankTickColor },
             border: { display: true, color: '#000', width: 4 },
             title: { display: true, text: 'Rank in Ordered Dataset', color: '#000', font: { size: 45 },
                      padding: { top: 0, bottom: 10 } } },
        y: yScale(p.mMin, p.mMax, metricTicks, 1)
      }
    })
  });

  // texts
  addDiv('txt', p.tag, { left: (p.left - 150) + 'px', top: (p.top - 136) + 'px', fontSize: '81px' });
  addDiv('txt', p.title, { left: (p.left - 2) + 'px', top: (p.top - 78) + 'px', fontSize: '53px' });
  addDiv('ytitle', 'Running Enrichment Score', { left: (p.left - 126) + 'px', top: (p.top + ES_H / 2) + 'px' });
  addDiv('ytitle', 'Ranked List Metric', { left: (p.left - 126) + 'px', top: (p.top + MET_OFF + MET_H / 2) + 'px' });

  const leg = addDiv('legend', null, { right: (PAGE_W - p.legRight) + 'px', top: (p.headTop + 44) + 'px' });
  p.sets.forEach((s, i) => {
    const line = document.createElement('div');
    line.textContent = s;
    line.style.color = PAL[i];
    leg.appendChild(line);
  });

  const tab = document.createElement('table');
  tab.className = 'stat';
  tab.style.right = (PAGE_W - p.tabRight - 3) + 'px';
  tab.style.top = (p.headTop - 3) + 'px';
  let html = '<tr><th>pvalue</th><th>p.adjust</th></tr>';
  p.pval.forEach((v, i) => {
    html += '<tr class="r' + (i % 2) + '"><td>' + v + '</td><td>' + p.padj[i] + '</td></tr>';
  });
  tab.innerHTML = html;
  page.appendChild(tab);
});
</script>
</body>
</html>
